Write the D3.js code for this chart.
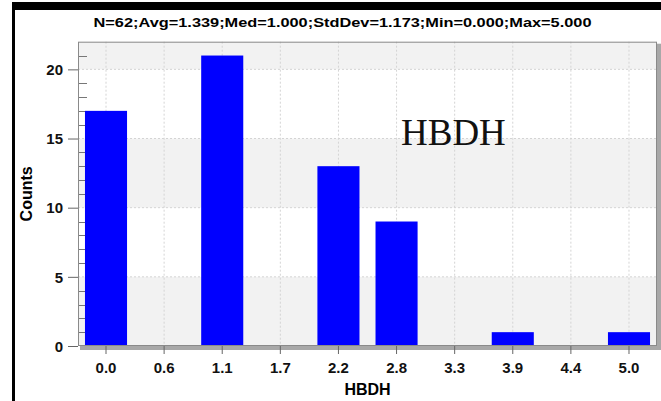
<!DOCTYPE html>
<html>
<head>
<meta charset="utf-8">
<script src="https://cdn.jsdelivr.net/npm/d3@7"></script>
<style>
  body { margin: 0; background: #fff; }
  svg { display: block; }
</style>
</head>
<body>
<svg></svg>
<script>
// histogram bins (labels under each bar) and counts
var binLabels = ["0.0", "0.6", "1.1", "1.7", "2.2", "2.8", "3.3", "3.9", "4.4", "5.0"];
var counts = [17, 0, 21, 0, 13, 9, 0, 1, 0, 1];
var yTicks = [0, 5, 10, 15, 20];
var yMinorTicks = [1, 2, 3, 4, 6, 7, 8, 9, 11, 12, 13, 14, 16, 17, 18, 19, 21];
var shadedBands = [[0, 5], [10, 15], [20, 22]];
var title = "N=62;Avg=1.339;Med=1.000;StdDev=1.173;Min=0.000;Max=5.000";
var xTitle = "HBDH";
var yTitle = "Counts";
var note = "HBDH";

var width = 661;
var height = 401;
// note: "top" is reserved on window, so plot edges get their own names
var plotLeft = 78, plotRight = 657, plotTop = 41.7, plotBottom = 346;

var svg = d3.select("svg")
    .attr("width", width)
    .attr("height", height);

// black frame pieces
svg.append("rect").attr("x", 12).attr("y", 2).attr("width", width - 12).attr("height", 8).attr("fill", "#000");
svg.append("rect").attr("x", 12).attr("y", 2).attr("width", 3).attr("height", height).attr("fill", "#000");

var xScale = d3.scaleBand()
    .domain(binLabels)
    .range([plotLeft, plotRight])
    .paddingInner(0.276)
    .paddingOuter(0.12);

var yScale = d3.scaleLinear()
    .domain([0, 22])
    .range([plotBottom, plotTop]);

// shadow + plot background
svg.append("rect")
    .attr("x", plotLeft + 2).attr("y", plotTop + 2)
    .attr("width", plotRight - plotLeft + 2).attr("height", plotBottom - plotTop + 2)
    .attr("fill", "#a8a8a8");
svg.append("rect")
    .attr("x", plotLeft).attr("y", plotTop)
    .attr("width", plotRight - plotLeft).attr("height", plotBottom - plotTop)
    .attr("fill", "#fff");

svg.selectAll("rect.band")
    .data(shadedBands)
    .enter()
    .append("rect")
        .attr("class", "band")
        .attr("x", plotLeft)
        .attr("width", plotRight - plotLeft)
        .attr("y", function(d) { return yScale(d[1]); })
        .attr("height", function(d) { return yScale(d[0]) - yScale(d[1]); })
        .attr("fill", "#f2f2f2");

// dotted grid
svg.selectAll("line.vgrid")
    .data(binLabels)
    .enter()
    .append("line")
        .attr("class", "vgrid")
        .attr("x1", function(d) { return xScale(d) + xScale.bandwidth() / 2; })
        .attr("x2", function(d) { return xScale(d) + xScale.bandwidth() / 2; })
        .attr("y1", plotTop).attr("y2", plotBottom)
        .attr("stroke", "#d4d4d4")
        .attr("stroke-dasharray", "2,2");
svg.selectAll("line.hgrid")
    .data(yTicks.slice(1))
    .enter()
    .append("line")
        .attr("class", "hgrid")
        .attr("x1", plotLeft).attr("x2", plotRight)
        .attr("y1", function(d) { return yScale(d); })
        .attr("y2", function(d) { return yScale(d); })
        .attr("stroke", "#d4d4d4")
        .attr("stroke-dasharray", "2,2");

// minor ticks inside the plot
svg.selectAll("line.minor")
    .data(yMinorTicks)
    .enter()
    .append("line")
        .attr("class", "minor")
        .attr("x1", plotLeft).attr("x2", plotLeft + 9)
        .attr("y1", function(d) { return Math.round(yScale(d)) + 0.5; })
        .attr("y2", function(d) { return Math.round(yScale(d)) + 0.5; })
        .attr("stroke", "#777");

svg.selectAll("rect.bar")
    .data(counts)
    .enter()
    .append("rect")
        .attr("class", "bar")
        .attr("x", function(d, i) { return xScale(binLabels[i]); })
        .attr("width", xScale.bandwidth())
        .attr("y", function(d) { return yScale(d); })
        .attr("height", function(d) { return plotBottom - yScale(d); })
        .attr("fill", "#0000ff");

// plot border
svg.append("rect")
    .attr("x", plotLeft + 0.5).attr("y", plotTop + 0.5)
    .attr("width", plotRight - plotLeft - 1).attr("height", plotBottom - plotTop - 1)
    .attr("fill", "none")
    .attr("stroke", "#8a8a8a");

var xAxis = d3.axisBottom(xScale).tickSize(8).tickSizeOuter(0).tickPadding(8);
var yAxis = d3.axisLeft(yScale).tickValues(yTicks).tickSize(10).tickSizeOuter(0).tickPadding(5);

var gx = svg.append("g")
    .attr("transform", "translate(0," + plotBottom + ")")
    .call(xAxis);
var gy = svg.append("g")
    .attr("transform", "translate(" + plotLeft + ",0)")
    .call(yAxis);

[gx, gy].forEach(function(g) {
    g.select(".domain").remove();
    g.selectAll(".tick line").attr("stroke", "#666");
    g.selectAll(".tick text")
        .attr("fill", "#111")
        .style("font-family", "Liberation Sans, Arial, sans-serif")
        .style("font-weight", "bold")
        .style("font-size", "15px");
});
gy.selectAll(".tick text").attr("dy", "0.35em");

svg.append("text")
    .attr("x", 342.5)
    .attr("y", 26.5)
    .attr("text-anchor", "middle")
    .attr("textLength", 498)
    .attr("lengthAdjust", "spacingAndGlyphs")
    .style("font-family", "Liberation Sans, Arial, sans-serif")
    .style("font-weight", "bold")
    .style("font-size", "13.5px")
    .text(title);

svg.append("text")
    .attr("x", (plotLeft + plotRight) / 2)
    .attr("y", 395)
    .attr("text-anchor", "middle")
    .style("font-family", "Liberation Sans, Arial, sans-serif")
    .style("font-weight", "bold")
    .style("font-size", "16px")
    .text(xTitle);

svg.append("text")
    .attr("transform", "translate(32," + (plotTop + plotBottom) / 2 + ") rotate(-90)")
    .attr("text-anchor", "middle")
    .style("font-family", "Liberation Sans, Arial, sans-serif")
    .style("font-weight", "bold")
    .style("font-size", "16px")
    .text(yTitle);

svg.append("text")
    .attr("x", 401)
    .attr("y", 145)
    .style("font-family", "Liberation Serif, Times New Roman, serif")
    .style("font-size", "37px")
    .attr("fill", "#111")
    .text(note);
</script>
</body>
</html>
